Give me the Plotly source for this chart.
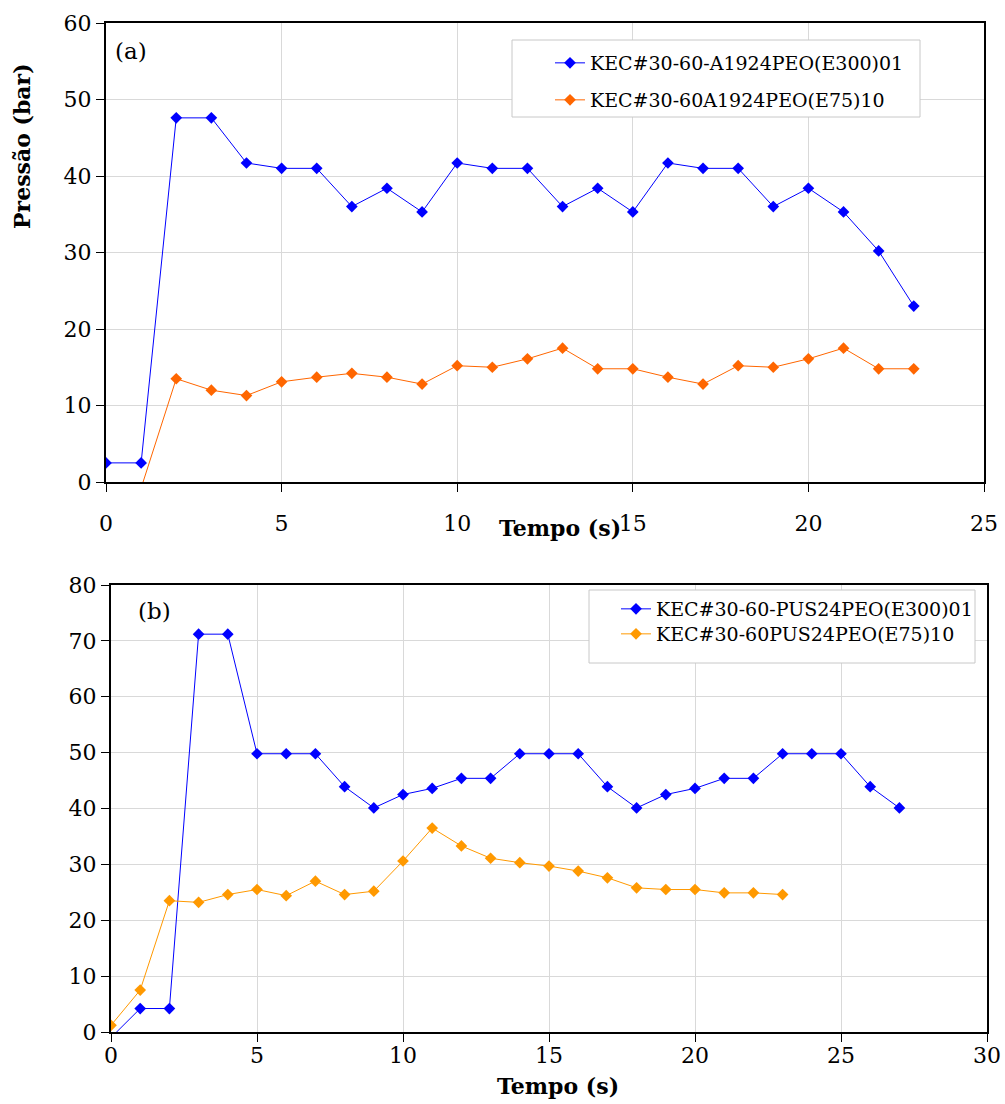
import plotly.graph_objects as go

# ---------------- data ----------------
# Panel (a)
t_a_e300 = list(range(0, 24))
p_a_e300 = [2.5, 2.5, 47.6, 47.6, 41.7, 41.0, 41.0, 36.0, 38.4, 35.3, 41.7, 41.0,
            41.0, 36.0, 38.4, 35.3, 41.7, 41.0, 41.0, 36.0, 38.4, 35.3, 30.2, 23.0]
t_a_e75 = list(range(1, 24))
p_a_e75 = [-0.8, 13.5, 12.0, 11.3, 13.1, 13.7, 14.2, 13.7, 12.8, 15.2, 15.0, 16.1,
           17.5, 14.8, 14.8, 13.7, 12.8, 15.2, 15.0, 16.1, 17.5, 14.8, 14.8]
name_a_e300 = "KEC#30-60-A1924PEO(E300)01"
name_a_e75 = "KEC#30-60A1924PEO(E75)10"

# Panel (b)
t_b_e300 = list(range(0, 28))
p_b_e300 = [-1.0, 4.2, 4.2, 71.2, 71.2, 49.8, 49.8, 49.8, 43.9, 40.1, 42.5, 43.6,
            45.4, 45.4, 49.8, 49.8, 49.8, 43.9, 40.1, 42.5, 43.6, 45.4, 45.4, 49.8,
            49.8, 49.8, 43.9, 40.1]
t_b_e75 = list(range(0, 24))
p_b_e75 = [1.2, 7.5, 23.5, 23.2, 24.6, 25.5, 24.4, 27.0, 24.6, 25.2, 30.6, 36.5,
           33.3, 31.1, 30.3, 29.7, 28.8, 27.6, 25.8, 25.5, 25.5, 24.9, 24.9, 24.6]
name_b_e300 = "KEC#30-60-PUS24PEO(E300)01"
name_b_e75 = "KEC#30-60PUS24PEO(E75)10"

# ---------------- style ----------------
FONT = "DejaVu Serif"
W, H = 1005, 1104
BLUE = "#0000FF"
ORANGE_A = "#FF6600"
ORANGE_B = "#FF9900"
GRID = "#d9d9d9"


def px(x):
    return x / W


def py(y):
    return 1 - y / H


fig = go.Figure()

fig.add_trace(go.Scatter(x=t_a_e300, y=p_a_e300, name=name_a_e300, mode="lines+markers",
                         line=dict(color=BLUE, width=1),
                         marker=dict(symbol="diamond", size=9, color=BLUE),
                         xaxis="x", yaxis="y", legend="legend2"))
fig.add_trace(go.Scatter(x=t_a_e75, y=p_a_e75, name=name_a_e75, mode="lines+markers",
                         line=dict(color=ORANGE_A, width=1),
                         marker=dict(symbol="diamond", size=9, color=ORANGE_A),
                         xaxis="x", yaxis="y", legend="legend3"))
fig.add_trace(go.Scatter(x=t_b_e300, y=p_b_e300, name=name_b_e300, mode="lines+markers",
                         line=dict(color=BLUE, width=1),
                         marker=dict(symbol="diamond", size=9, color=BLUE),
                         xaxis="x2", yaxis="y2", legend="legend4"))
fig.add_trace(go.Scatter(x=t_b_e75, y=p_b_e75, name=name_b_e75, mode="lines+markers",
                         line=dict(color=ORANGE_B, width=1),
                         marker=dict(symbol="diamond", size=9, color=ORANGE_B),
                         xaxis="x2", yaxis="y2", legend="legend5"))

axis_common = dict(showline=True, linecolor="black", linewidth=2, mirror=True,
                   ticks="outside", ticklen=8, tickwidth=1, tickcolor="black",
                   showgrid=True, gridcolor=GRID, gridwidth=1, zeroline=False,
                   automargin=False,
                   tickfont=dict(family=FONT, size=22, color="black"))

leg_common = dict(xanchor="left", yanchor="top", bgcolor="rgba(0,0,0,0)", borderwidth=0,
                  font=dict(family=FONT, size=19, color="black"))

ann_common = dict(xref="paper", yref="paper", showarrow=False,
                  xanchor="center", yanchor="middle")

fig.update_layout(
    width=W, height=H,
    margin=dict(l=0, r=0, t=0, b=0, pad=0),
    paper_bgcolor="white", plot_bgcolor="white",
    font=dict(family=FONT, color="black"),
    xaxis=dict(domain=[px(106), px(984)], range=[0, 25], dtick=5, anchor="y",
               ticklabelstandoff=13, **axis_common),
    yaxis=dict(domain=[py(482), py(23)], range=[0, 60], dtick=10, anchor="x",
               **axis_common),
    xaxis2=dict(domain=[px(111), px(987)], range=[0, 30], dtick=5, anchor="y2",
                ticklabelstandoff=-5, **axis_common),
    yaxis2=dict(domain=[py(1032), py(585)], range=[0, 80], dtick=10, anchor="x2",
                **axis_common),
    legend2=dict(x=px(550), y=py(44), **leg_common),
    legend3=dict(x=px(550), y=py(81), **leg_common),
    legend4=dict(x=px(616), y=py(590), **leg_common),
    legend5=dict(x=px(616), y=py(615), **leg_common),
    shapes=[
        dict(type="rect", xref="paper", yref="paper", x0=px(512), x1=px(920),
             y0=py(117), y1=py(40), line=dict(color="#c8c8c8", width=1),
             fillcolor="white", layer="above"),
        dict(type="rect", xref="paper", yref="paper", x0=px(589), x1=px(975),
             y0=py(663), y1=py(590), line=dict(color="#c8c8c8", width=1),
             fillcolor="white", layer="above"),
    ],
    annotations=[
        dict(text="<b>Tempo (s)</b>", x=px(560), y=py(528),
             font=dict(family=FONT, size=22), **ann_common),
        dict(text="<b>Tempo (s)</b>", x=px(558), y=py(1086),
             font=dict(family=FONT, size=22), **ann_common),
        dict(text="<b>Pressão (bar)</b>", x=px(22), y=py(146), textangle=-90,
             font=dict(family=FONT, size=22), **ann_common),
        dict(text="(a)", x=px(131), y=py(51),
             font=dict(family=FONT, size=23), **ann_common),
        dict(text="(b)", x=px(154), y=py(611),
             font=dict(family=FONT, size=23), **ann_common),
    ],
)

fig.write_html("out.html")
